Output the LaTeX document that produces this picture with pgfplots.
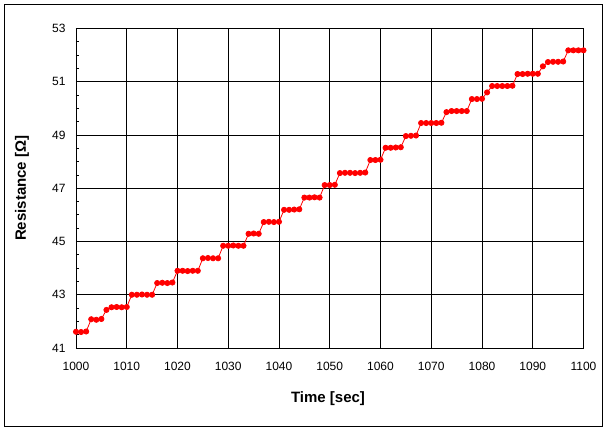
\documentclass[border=0pt]{standalone}
\usepackage{pgfplots}
\pgfplotsset{compat=1.18}
\usepackage{fontspec}
\setmainfont{Liberation Sans}

\begin{document}
\begin{tikzpicture}
\useasboundingbox (-76bp,-84bp) rectangle (533bp,348bp);
\begin{axis}[
    at={(0,0)}, anchor=south west,
    scale only axis,
    width=507.5bp, height=319.5bp,
    xmin=1000, xmax=1100,
    ymin=41, ymax=53,
    xtick={1000,1010,...,1100},
    ytick={41,43,...,53},
    minor y tick num=3,
    ytick pos=left, xtick pos=bottom,
    major tick length=0pt,
    minor tick length=3bp,
    tick align=inside,
    minor tick style={black, line width=0.8bp},
    grid=major,
    grid style={black, line width=0.9bp},
    axis line style={black, line width=0.9bp},
    /pgf/number format/assume math mode=true,
    /pgf/number format/1000 sep={},
    tick label style={font=\fontsize{12bp}{14bp}\selectfont},
    xticklabel style={yshift=-11bp},
    yticklabel style={xshift=-7bp},
    xlabel={Time [sec]},
    ylabel={Resistance [Ω]},
    xlabel style={at={(axis description cs:0.4966,-0.1596)}, anchor=center,
        font=\fontsize{15bp}{17bp}\selectfont\bfseries},
    ylabel style={at={(axis description cs:-0.1064,0.5)}, anchor=center, rotate=0,
        font=\fontsize{15bp}{17bp}\selectfont\bfseries},
]
\addplot[color=red, line width=0.8bp, mark=*, mark size=2.6bp,
    mark options={fill=red, draw=red}]
    coordinates {
    (1000,41.61)(1001,41.60)(1002,41.62)
    (1003,42.08)(1004,42.06)(1005,42.09)
    (1006,42.43)
    (1007,42.53)(1008,42.54)(1009,42.53)(1010,42.54)
    (1011,43.00)(1012,43.00)(1013,43.01)(1014,43.00)(1015,43.00)
    (1016,43.44)(1017,43.45)(1018,43.44)(1019,43.46)
    (1020,43.90)(1021,43.90)(1022,43.89)(1023,43.90)(1024,43.90)
    (1025,44.37)(1026,44.38)(1027,44.37)(1028,44.37)
    (1029,44.84)(1030,44.84)(1031,44.85)(1032,44.84)(1033,44.84)
    (1034,45.29)(1035,45.30)(1036,45.29)
    (1037,45.73)(1038,45.74)(1039,45.73)(1040,45.74)
    (1041,46.19)(1042,46.19)(1043,46.20)(1044,46.21)
    (1045,46.65)(1046,46.65)(1047,46.66)(1048,46.65)
    (1049,47.12)(1050,47.12)(1051,47.13)
    (1052,47.57)(1053,47.58)(1054,47.58)(1055,47.57)(1056,47.58)(1057,47.59)
    (1058,48.06)(1059,48.06)(1060,48.07)
    (1061,48.52)(1062,48.52)(1063,48.53)(1064,48.54)
    (1065,48.96)(1066,48.97)(1067,48.98)
    (1068,49.45)(1069,49.45)(1070,49.45)(1071,49.45)(1072,49.46)
    (1073,49.86)(1074,49.90)(1075,49.90)(1076,49.90)(1077,49.90)
    (1078,50.35)(1079,50.35)(1080,50.36)
    (1081,50.60)
    (1082,50.84)(1083,50.84)(1084,50.84)(1085,50.84)(1086,50.85)
    (1087,51.29)(1088,51.29)(1089,51.30)(1090,51.30)(1091,51.30)
    (1092,51.58)
    (1093,51.74)(1094,51.75)(1095,51.75)(1096,51.76)
    (1097,52.18)(1098,52.18)(1099,52.18)(1100,52.18)
    };
\end{axis}
\draw[line width=1bp] (-71bp,-78bp) rectangle (526bp,343bp);
\end{tikzpicture}
\end{document}
